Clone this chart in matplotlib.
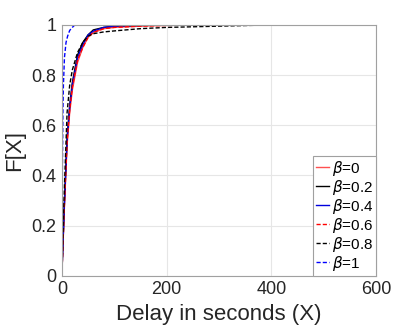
"""Delay CDF for several beta values."""

import matplotlib

matplotlib.use("Agg")
import matplotlib.pyplot as plt

plt.rcParams["font.family"] = ["Liberation Sans", "DejaVu Sans"]
plt.rcParams["mathtext.fontset"] = "dejavusans"

delay = [0, 5, 10, 15, 20, 30, 40, 50, 60, 80, 100, 150, 200, 300, 400]
delay_long = [0, 5, 10, 15, 20, 30, 40, 50, 60, 80, 100, 150, 200, 300, 475]
cdf_b0 = [0, 0.28, 0.52, 0.65, 0.74, 0.85, 0.91, 0.95, 0.97, 0.985, 0.99, 0.995, 0.998, 1.0, 1.0]
cdf_b02 = [0, 0.30, 0.55, 0.68, 0.77, 0.88, 0.93, 0.96, 0.98, 0.99, 0.995, 0.998, 1.0, 1.0, 1.0]
cdf_b04 = [0, 0.29, 0.54, 0.67, 0.76, 0.87, 0.92, 0.96, 0.975, 0.99, 0.995, 0.998, 1.0, 1.0, 1.0]
cdf_b06 = [0, 0.29, 0.53, 0.66, 0.75, 0.86, 0.91, 0.95, 0.97, 0.985, 0.99, 0.995, 0.998, 1.0, 1.0]
cdf_b08 = [0, 0.36, 0.65, 0.76, 0.82, 0.89, 0.93, 0.955, 0.965, 0.972, 0.976, 0.985, 0.99, 0.995, 1.0]
delay_b1 = [0, 1, 2, 3, 5, 8, 11, 15, 20, 25, 400]
cdf_b1 = [0, 0.4, 0.65, 0.76, 0.87, 0.93, 0.955, 0.978, 0.99, 1.0, 1.0]

dash = (0, (3, 1.5))
series = [
    (delay, cdf_b0, "#ff5050", "-", r"$\beta$=0"),
    (delay, cdf_b02, "black", "-", r"$\beta$=0.2"),
    (delay_long, cdf_b04, "#0000dd", "-", r"$\beta$=0.4"),
    (delay, cdf_b06, "red", dash, r"$\beta$=0.6"),
    (delay, cdf_b08, "black", dash, r"$\beta$=0.8"),
    (delay_b1, cdf_b1, "blue", dash, r"$\beta$=1"),
]

fig = plt.figure(figsize=(4.15, 3.32), dpi=100)
ax = fig.add_axes([0.149, 0.169, 0.757, 0.756])
for x, y, color, ls, label in series:
    ax.plot(x, y, color=color, linestyle=ls, linewidth=1.0, label=label)

ax.set_xlim(0, 600)
ax.set_ylim(0, 1)
ax.set_xticks([0, 200, 400, 600])
ax.set_yticks([0, 0.2, 0.4, 0.6, 0.8, 1])
ax.set_yticklabels(["0", "0.2", "0.4", "0.6", "0.8", "1"])
ax.tick_params(labelsize=13, length=0, colors="#262626", pad=4)
ax.grid(True, color="#e6e6e6", linewidth=0.8)
for spine in ax.spines.values():
    spine.set_color("#a0a0a0")
    spine.set_linewidth(0.8)
ax.set_xlabel("Delay in seconds (X)", fontsize=16, color="#262626")
ax.set_ylabel("F[X]", fontsize=16, color="#262626")

leg = ax.legend(loc="lower right", fontsize=11, handlelength=0.8, handletextpad=0.2,
                borderaxespad=0, labelspacing=0.0, fancybox=False, framealpha=1,
                borderpad=0.2)
leg.get_frame().set_edgecolor("#a0a0a0")
leg.get_frame().set_linewidth(0.8)

fig.savefig("out.png", dpi=100)
